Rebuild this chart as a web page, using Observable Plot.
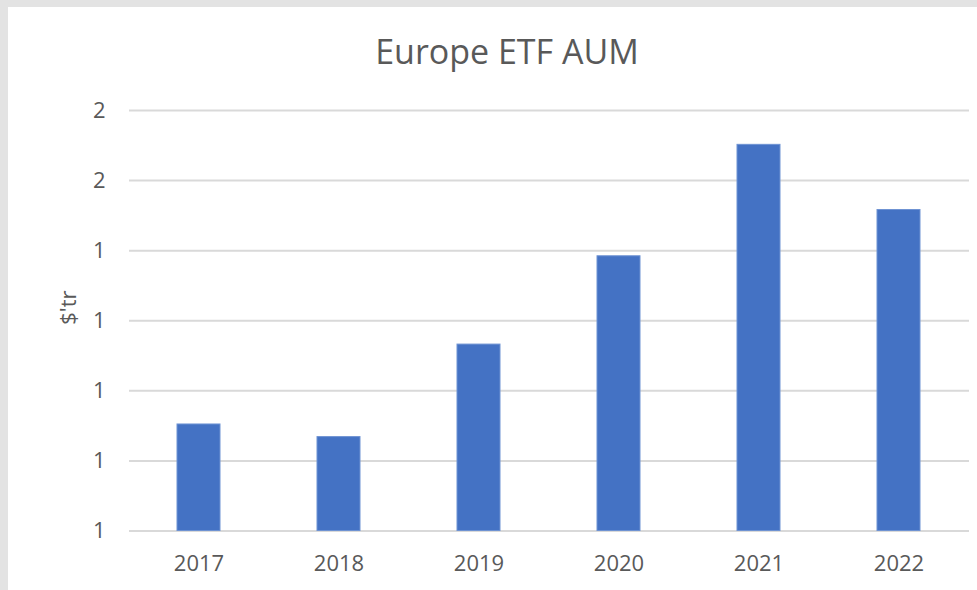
<!DOCTYPE html>
<html>
<head>
<meta charset="utf-8">
<script src="https://cdn.jsdelivr.net/npm/d3@7"></script>
<script src="https://cdn.jsdelivr.net/npm/@observablehq/plot@0.6"></script>
<style>
  html, body { margin: 0; padding: 0; background: #e3e3e3; width: 977px; height: 590px; overflow: hidden; }
  #frame { position: absolute; left: 8px; top: 7px; width: 969px; height: 583px; background: #fff; }
  #title { position: absolute; left: 0; top: 1px; width: 998px; height: 87px; text-align: center;
           font-family: "Open Sans", sans-serif; font-size: 34px; color: #595959; line-height: 87px; }
  #chart { position: absolute; left: 0; top: 80px; }
</style>
</head>
<body>
<div id="frame">
  <div id="title">Europe ETF AUM</div>
  <div id="chart"></div>
</div>
<script>
const years = ["2017", "2018", "2019", "2020", "2021", "2022"];
const aum = [1.152, 1.134, 1.266, 1.392, 1.551, 1.458];
const yTicks = [1.0, 1.1, 1.2, 1.3, 1.4, 1.5, 1.6];
const yLabel = "$'tr";

const data = years.map((y, i) => ({year: y, value: aum[i]}));

const chart = Plot.plot({
  width: 969,
  height: 503,
  marginLeft: 121,
  marginRight: 8,
  marginTop: 23,
  marginBottom: 59.5,
  style: { fontFamily: "'Open Sans', sans-serif", fontSize: "22px", color: "#595959", background: "transparent" },
  x: { domain: years, paddingInner: 0.69, paddingOuter: 0.345, label: null },
  y: { domain: [1.0, 1.6], label: null },
  marks: [
    Plot.gridY(yTicks, { stroke: "#d9d9d9", strokeOpacity: 1, strokeWidth: 2 }),
    Plot.barY(data, { x: "year", y1: 1.0, y2: "value", fill: "#4472C4", stroke: "#6f93d3", strokeWidth: 1 }),
    Plot.axisY(yTicks, { tickSize: 0, tickPadding: 24, tickFormat: d => Math.round(d).toString(),
      fill: "#595959", label: null }),
    Plot.axisX({ tickSize: 0, tickPadding: 24, fill: "#595959", label: null }),
    Plot.text([yLabel], { frameAnchor: "left", dx: -61, rotate: -90, fill: "#595959", fontSize: 22,
      text: d => d, lineAnchor: "middle", dy: 4 })
  ]
});
document.getElementById("chart").appendChild(chart);
</script>
</body>
</html>
